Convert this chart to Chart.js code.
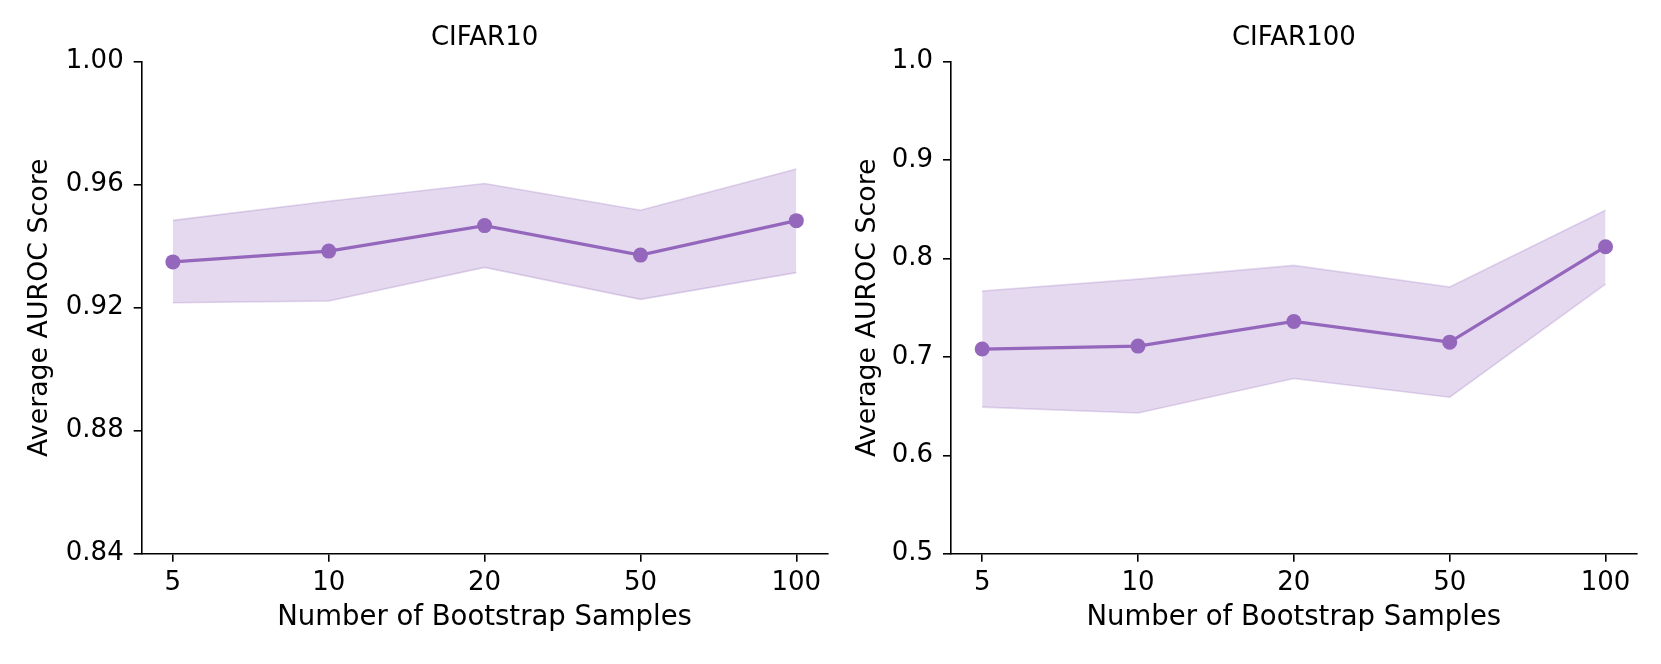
<!DOCTYPE html>
<html>
<head>
<meta charset="utf-8">
<script src="https://cdn.jsdelivr.net/npm/chart.js@4.4.1/dist/chart.umd.min.js"></script>
<style>
  body { margin: 0; background: #fff; }
  .box { position: absolute; top: 0; height: 664px; }
</style>
</head>
<body>
<div class="box" style="left:0;width:835px"><canvas id="cifar10"></canvas></div>
<div class="box" style="left:835px;width:826px"><canvas id="cifar100"></canvas></div>
<script>
// data
const samples = ['5', '10', '20', '50', '100'];

const cifar10Mean  = [0.9349, 0.9384, 0.9467, 0.9371, 0.9483];
const cifar10Upper = [0.9484, 0.9546, 0.9604, 0.9517, 0.9651];
const cifar10Lower = [0.9216, 0.9222, 0.9331, 0.9227, 0.9314];
const cifar10Ticks = [0.84, 0.88, 0.92, 0.96, 1.00];

const cifar100Mean  = [0.708, 0.711, 0.736, 0.715, 0.812];
const cifar100Upper = [0.767, 0.779, 0.793, 0.771, 0.849];
const cifar100Lower = [0.649, 0.643, 0.678, 0.659, 0.774];
const cifar100Ticks = [0.5, 0.6, 0.7, 0.8, 0.9, 1.0];

const purple = '#9467bd';
const band = 'rgba(148,103,189,0.25)';

Chart.defaults.font.family = 'DejaVu Sans';
Chart.defaults.font.size = 26;
Chart.defaults.color = '#000';

function toPoints(arr) {
  return arr.map((v, i) => ({ x: i, y: v }));
}

function makeChart(id, title, mean, upper, lower, yTicks, decimals, yWidth, yTitlePad, padRight) {
  return new Chart(document.getElementById(id), {
    type: 'line',
    data: {
      datasets: [
        {
          data: toPoints(mean),
          borderColor: purple,
          backgroundColor: purple,
          borderWidth: 3.2,
          pointRadius: 7.5,
          pointBorderWidth: 0,
          pointBackgroundColor: purple,
          fill: false
        },
        {
          data: toPoints(upper),
          borderColor: band,
          borderWidth: 1.6,
          pointRadius: 0,
          backgroundColor: band,
          fill: '+1'
        },
        {
          data: toPoints(lower),
          borderColor: band,
          borderWidth: 1.6,
          pointRadius: 0,
          fill: false
        }
      ]
    },
    options: {
      responsive: true,
      maintainAspectRatio: false,
      animation: false,
      layout: { padding: { left: 0, right: padRight, top: 0, bottom: 0 } },
      plugins: {
        legend: { display: false },
        tooltip: { enabled: false },
        title: {
          display: true,
          text: title,
          fullSize: false,
          font: { weight: 'normal', size: 26 },
          padding: { top: 22.2, bottom: 8.3 }
        }
      },
      scales: {
        x: {
          type: 'linear',
          min: -0.2,
          max: 4.2,
          afterBuildTicks: s => { s.ticks = samples.map((_, i) => ({ value: i })); },
          afterFit: s => { s.height = 110.3; },
          ticks: {
            callback: v => samples[v],
            padding: 6,
            maxRotation: 0
          },
          grid: { drawOnChartArea: false, tickLength: 8, color: '#000', lineWidth: 1.6 },
          border: { color: '#000', width: 1.6 },
          title: {
            display: true,
            text: 'Number of Bootstrap Samples',
            font: { size: 27.5 },
            padding: { top: 0, bottom: 29.5 }
          }
        },
        y: {
          min: yTicks[0],
          max: yTicks[yTicks.length - 1],
          afterBuildTicks: s => { s.ticks = yTicks.map(v => ({ value: v })); },
          afterFit: s => { s.width = yWidth; },
          ticks: {
            callback: v => Number(v).toFixed(decimals),
            padding: 10
          },
          grid: { drawOnChartArea: false, tickLength: 8, color: '#000', lineWidth: 1.6 },
          border: { color: '#000', width: 1.6 },
          title: {
            display: true,
            text: 'Average AUROC Score',
            font: { size: 26.8 },
            padding: { top: yTitlePad, bottom: 0 }
          }
        }
      }
    }
  });
}

makeChart('cifar10', 'CIFAR10', cifar10Mean, cifar10Upper, cifar10Lower, cifar10Ticks, 2, 141.7, 24.2, 7.3);
makeChart('cifar100', 'CIFAR100', cifar100Mean, cifar100Upper, cifar100Lower, cifar100Ticks, 1, 116, 17.2, 24.3);
</script>
</body>
</html>
